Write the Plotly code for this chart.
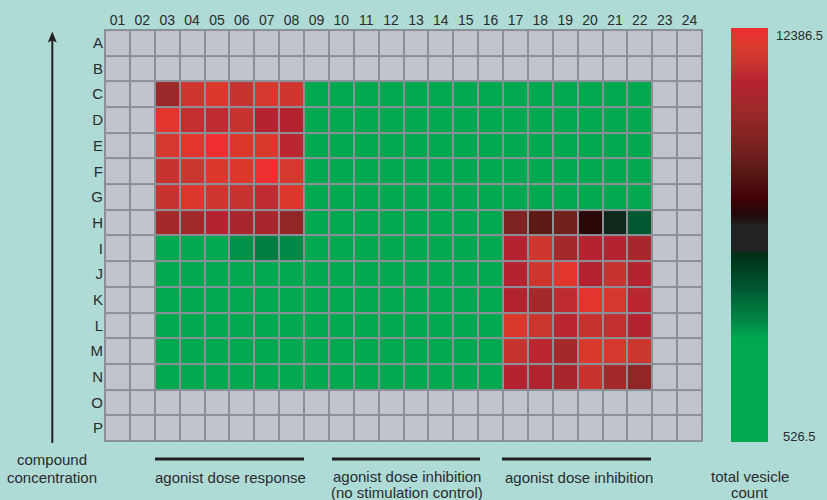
import plotly.graph_objects as go

# ---- data -------------------------------------------------------------
row_labels = list("ABCDEFGHIJKLMNOP")
col_labels = [f"{i:02d}" for i in range(1, 25)]

# rows C..N of each assay block (total vesicle count)
dose_response = [  # columns 03-08
    [10015, 11556, 11912, 11319, 11675, 11556],
    [12031, 11200, 11082, 11319, 10845, 10790],
    [11675, 12031, 12386.5, 11912, 11794, 10963],
    [11319, 11438, 11912, 11912, 12300, 11675],
    [11319, 11912, 11556, 11319, 11082, 11912],
    [10252, 10133, 10845, 10370, 10370, 9659],
    [1450, 1320, 2210, 3847, 4203, 3966],
    [980, 1240, 1105, 1630, 1380, 1190],
    [870, 760, 1010, 1290, 940, 1120],
    [690, 810, 905, 1020, 760, 880],
    [620, 700, 655, 830, 590, 745],
    [526.5, 610, 580, 690, 640, 560],
]
no_stim_control = [  # columns 09-16
    [1210, 1350, 980, 1120, 1430, 1050, 1280, 990],
    [1105, 1260, 1340, 1015, 1190, 1410, 1075, 1230],
    [1320, 1140, 1225, 1390, 1060, 1170, 1305, 1115],
    [1180, 1295, 1085, 1240, 1360, 1010, 1145, 1270],
    [1045, 1210, 1330, 1155, 1090, 1285, 1390, 1020],
    [1260, 1090, 1175, 1310, 1240, 1125, 1030, 1345],
    [1130, 1375, 1060, 1205, 1150, 1335, 1215, 1080],
    [1290, 1020, 1255, 1100, 1380, 1065, 1160, 1310],
    [1070, 1185, 1400, 1035, 1270, 1195, 1345, 1140],
    [1355, 1250, 1110, 1320, 1005, 1230, 1095, 1260],
    [1160, 1095, 1285, 1190, 1325, 1040, 1275, 1185],
    [1235, 1315, 1050, 1265, 1135, 1370, 1120, 1055],
]
dose_inhibition = [  # columns 17-22
    [1180, 1050, 1320, 1240, 1110, 1390],
    [1260, 1140, 1075, 1300, 1215, 1020],
    [1090, 1355, 1190, 1035, 1280, 1165],
    [1310, 1205, 1245, 1150, 1060, 1330],
    [1025, 1170, 1380, 1275, 1195, 1100],
    [9184, 8354, 8829, 7168, 5982, 4915],
    [10845, 11556, 10252, 10845, 10845, 10370],
    [10845, 11556, 12031, 10726, 11319, 10845],
    [10726, 10252, 11082, 12031, 11675, 10963],
    [11794, 11438, 10963, 11319, 11200, 10845],
    [11319, 10963, 10252, 11794, 11675, 11438],
    [10845, 10608, 10370, 11319, 10252, 9659],
]
count_min = 526.5
count_max = 12386.5

group_labels = [
    ["agonist dose response"],
    ["agonist dose inhibition", "(no stimulation control)"],
    ["agonist dose inhibition"],
]
axis_label = ["compound", "concentration"]
colorbar_label = ["total vesicle", "count"]

# ---- assemble plate (None = empty well) -------------------------------
z = []
for r in range(16):
    if 2 <= r <= 13:
        k = r - 2
        row = [None, None] + dose_response[k] + no_stim_control[k] + dose_inhibition[k] + [None, None]
    else:
        row = [None] * 24
    z.append(row)

empty = [[1] * 24 for _ in range(16)]

colorscale = [
    [0.0, "#00a84f"],
    [0.25, "#00a84f"],
    [0.295, "#008545"],
    [0.343, "#006a3a"],
    [0.374, "#005530"],
    [0.42, "#00401f"],
    [0.455, "#003018"],
    [0.465, "#222222"],
    [0.52, "#222222"],
    [0.536, "#221414"],
    [0.553, "#250808"],
    [0.585, "#3e0005"],
    [0.609, "#480810"],
    [0.65, "#581812"],
    [0.698, "#70201e"],
    [0.754, "#8a2525"],
    [0.81, "#a02a2a"],
    [0.867, "#b52230"],
    [0.915, "#c83530"],
    [0.947, "#d83a2c"],
    [1.0, "#ee2e30"],
]

BG = "#aedbd5"
GRID = "#8b8f96"
WELL = "#c1c4cc"
TXT = "#2b2b2b"
FONT = "Liberation Sans, Arial, sans-serif"

fig = go.Figure()
fig.add_trace(go.Heatmap(
    z=empty, x=col_labels, y=row_labels,
    colorscale=[[0, WELL], [1, WELL]], showscale=False,
    xgap=2, ygap=2, hoverinfo="skip",
))
fig.add_trace(go.Heatmap(
    z=z, x=col_labels, y=row_labels,
    colorscale=colorscale, zmin=count_min, zmax=count_max,
    xgap=2, ygap=2,
    colorbar=dict(
        x=1.0467, xanchor="left", xpad=0,
        y=1.0024, yanchor="top", ypad=0,
        len=414, lenmode="pixels", thickness=37,
        outlinewidth=0, showticklabels=False, ticks="",
    ),
))

W, H = 827, 500
ML, MR, MT, MB = 104, 124, 29, 58
PW, PH = W - ML - MR, H - MT - MB


def px(xp):
    return (xp - ML) / PW


def py(yp):
    return (MT + PH - yp) / PH


annotations = []
# colourbar end labels
annotations.append(dict(x=px(774), y=py(35.5), xref="paper", yref="paper",
                        text=f"{count_max:g}", showarrow=False, xanchor="left",
                        yanchor="middle", font=dict(size=13, color=TXT, family=FONT)))
annotations.append(dict(x=px(781), y=py(436.7), xref="paper", yref="paper",
                        text=f"{count_min:g}", showarrow=False, xanchor="left",
                        yanchor="middle", font=dict(size=13, color=TXT, family=FONT)))
# bottom labels, one annotation per text line
bottom = [
    (axis_label, 52, [459, 477]),
    (group_labels[0], 230, [477]),
    (group_labels[1], 407, [476, 492]),
    (group_labels[2], 578.5, [477]),
    (colorbar_label, 749.7, [476, 492]),
]
for lines, xx, ys in bottom:
    for txt, yy in zip(lines, ys):
        annotations.append(dict(x=px(xx), y=py(yy), xref="paper", yref="paper",
                                text=txt, showarrow=False, xanchor="center",
                                yanchor="middle", align="center",
                                font=dict(size=15, color=TXT, family=FONT)))

shapes = []
# group underline bars
for x0, x1 in [(155, 304), (332, 480), (502, 651)]:
    shapes.append(dict(type="line", xref="paper", yref="paper",
                       x0=px(x0), x1=px(x1), y0=py(459), y1=py(459),
                       line=dict(color="#222222", width=3)))
# concentration arrow
shapes.append(dict(type="line", xref="paper", yref="paper",
                   x0=px(52.3), x1=px(52.3), y0=py(443), y1=py(40),
                   line=dict(color="#222222", width=2)))
shapes.append(dict(type="path", xref="paper", yref="paper",
                   path=f"M {px(52.3)} {py(31.5)} L {px(47.8)} {py(42.5)} "
                        f"L {px(52.3)} {py(40.5)} L {px(56.8)} {py(42.5)} Z",
                   fillcolor="#222222", line=dict(width=0)))

fig.update_layout(
    width=W, height=H,
    margin=dict(l=ML, r=MR, t=MT, b=MB),
    paper_bgcolor=BG, plot_bgcolor=GRID,
    font=dict(family=FONT, color=TXT),
    xaxis=dict(side="top", range=[-0.54, 23.54], showgrid=False, zeroline=False,
               ticks="", tickfont=dict(size=14, color=TXT, family=FONT),
               fixedrange=True),
    yaxis=dict(range=[15.54, -0.54], showgrid=False, zeroline=False,
               ticks="", tickfont=dict(size=15, color=TXT, family=FONT),
               fixedrange=True),
    annotations=annotations,
    shapes=shapes,
    showlegend=False,
)

fig.write_html("out.html")
